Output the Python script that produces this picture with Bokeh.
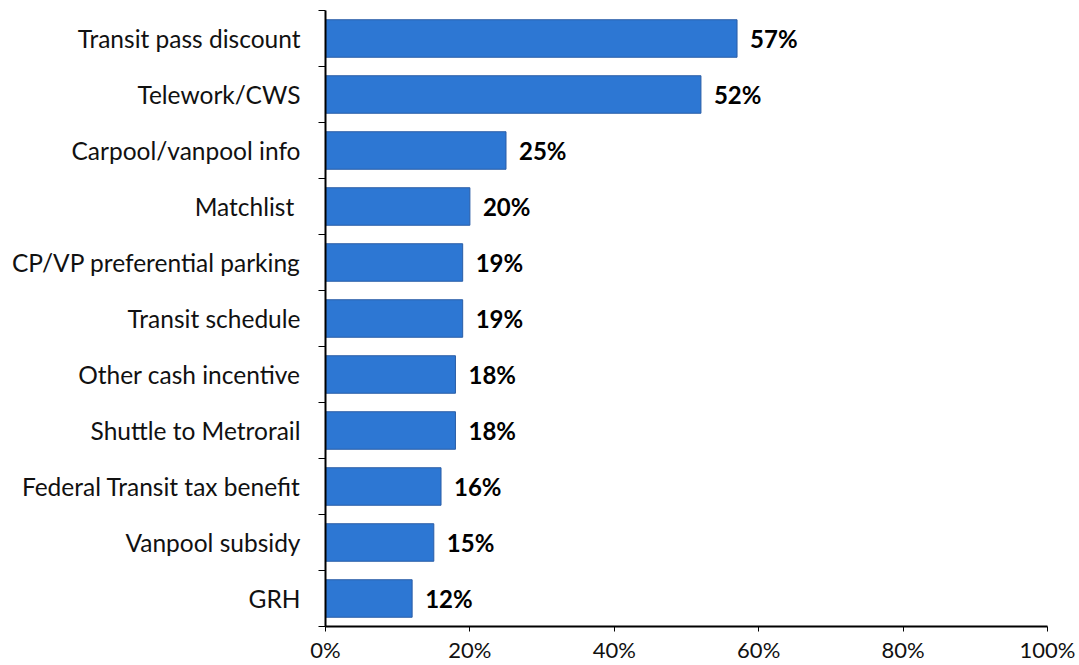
from bokeh.plotting import figure
from bokeh.models import Range1d, FixedTicker, NumeralTickFormatter, ColumnDataSource
from bokeh.core.properties import value
from bokeh.embed import file_html
from bokeh.resources import INLINE

categories = ["Transit pass discount", "Telework/CWS", "Carpool/vanpool info", "Matchlist ",
              "CP/VP preferential parking", "Transit schedule", "Other cash incentive",
              "Shuttle to Metrorail", "Federal Transit tax benefit", "Vanpool subsidy", "GRH"]
values = [57, 52, 25, 20, 19, 19, 18, 18, 16, 15, 12]
x_ticks = [0, 20, 40, 60, 80, 100]

n = len(categories)
ys = [n - i - 0.5 for i in range(n)]
src = ColumnDataSource(dict(y=ys, v=[v / 100 for v in values], lab=[f"{v}%" for v in values]))

FONT = "Lato"
p = figure(width=1079, height=665, output_backend="svg", toolbar_location=None,
           x_range=Range1d(0, 1), y_range=Range1d(0, n),
           min_border_left=325, min_border_right=32, min_border_top=10, min_border_bottom=39)
p.outline_line_color = None
p.grid.grid_line_color = None

p.hbar(y="y", right="v", left=0, height=0.67, source=src,
       fill_color="#2D77D3", line_color="#2A5DA6", line_width=1)
p.text(x="v", y="y", text="lab", source=src, x_offset=13, text_baseline="middle",
       text_font=value(FONT), text_font_size="24px", text_font_style="bold", text_color="#000000")

xa = p.xaxis[0]
xa.ticker = FixedTicker(ticks=[t / 100 for t in x_ticks])
xa.formatter = NumeralTickFormatter(format="0%")
xa.axis_line_width = 2
xa.axis_line_color = "#000000"
xa.major_tick_out = 5
xa.major_tick_in = 0
xa.major_tick_line_color = "#000000"
xa.minor_tick_line_color = None
xa.major_label_text_font = FONT
xa.major_label_text_font_size = "22px"
xa.major_label_text_color = "#111111"
xa.major_label_standoff = 4

ya = p.yaxis[0]
ya.ticker = FixedTicker(ticks=ys, minor_ticks=list(range(n + 1)))
ya.major_label_overrides = {y: c for y, c in zip(ys, categories)}
ya.axis_line_width = 2
ya.axis_line_color = "#000000"
ya.major_tick_out = 0
ya.major_tick_in = 0
ya.minor_tick_out = 7
ya.minor_tick_in = 0
ya.minor_tick_line_color = "#000000"
ya.minor_tick_line_width = 1
ya.major_label_text_font = FONT
ya.major_label_text_font_size = "24.5px"
ya.major_label_text_color = "#111111"
ya.major_label_standoff = 18

open("out.html", "w").write(file_html(p, INLINE))
